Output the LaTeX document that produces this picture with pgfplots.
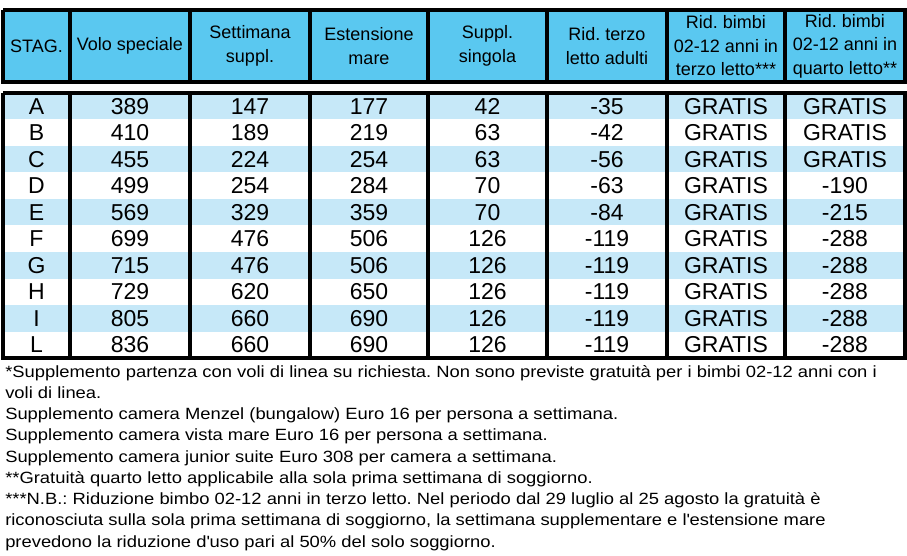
\documentclass[border=0pt]{standalone}
\usepackage{pgfplots}
\pgfplotsset{compat=1.18}
\usepackage{pgfplotstable}
\usepackage{fontspec}
\setmainfont{Liberation Sans}
\newfontfamily\notefont[FakeStretch=1.13]{Liberation Sans}
\frenchspacing
\definecolor{hdr}{RGB}{90,200,240}
\definecolor{rowblue}{RGB}{198,232,248}

\tikzset{
    hd/.style={font=\fontsize{13.5}{17.6}\selectfont, align=center, anchor=center, inner sep=0pt},
    fn/.style={font=\notefont\fontsize{12.2}{14}\selectfont, anchor=base west, inner sep=0pt}}

\pgfplotstableread{
stag volo sett est sing terzo bimbi quarto
A 389 147 177 42 -35 GRATIS GRATIS
B 410 189 219 63 -42 GRATIS GRATIS
C 455 224 254 63 -56 GRATIS GRATIS
D 499 254 284 70 -63 GRATIS -190
E 569 329 359 70 -84 GRATIS -215
F 699 476 506 126 -119 GRATIS -288
G 715 476 506 126 -119 GRATIS -288
H 729 620 650 126 -119 GRATIS -288
I 805 660 690 126 -119 GRATIS -288
L 836 660 690 126 -119 GRATIS -288
}\tab

\begin{document}
\begin{tikzpicture}
\begin{axis}[scale only axis, width=680.25pt, height=417pt,
    xmin=0, xmax=907, ymin=0, ymax=556, y dir=reverse,
    hide axis, clip=false,
    cell/.style={draw=none, mark=none, nodes near coords, point meta=explicit symbolic,
        nodes near coords align=center,
        nodes near coords style={anchor=center, font=\fontsize{17.25}{20}\selectfont, inner sep=0pt}}]

% extent of the picture
\addplot[draw=none, mark=none] coordinates {(0,0) (907,556)};

% header
\addplot[fill=hdr, draw=black, line width=2.6pt, line join=miter] coordinates {(3,10) (905,10) (905,82) (3,82) (3,10)};
% striped rows
\addplot[fill=rowblue, draw=none] coordinates {(3,93) (905,93) (905,119.5) (3,119.5)};
\addplot[fill=rowblue, draw=none] coordinates {(3,146) (905,146) (905,172.5) (3,172.5)};
\addplot[fill=rowblue, draw=none] coordinates {(3,199) (905,199) (905,225.5) (3,225.5)};
\addplot[fill=rowblue, draw=none] coordinates {(3,252) (905,252) (905,278.5) (3,278.5)};
\addplot[fill=rowblue, draw=none] coordinates {(3,305) (905,305) (905,331.5) (3,331.5)};
\addplot[draw=black, line width=2.6pt, line join=miter] coordinates {(3,93) (905,93) (905,358) (3,358) (3,93)};

% column separators
\foreach \c in {70,190,310,428,547,667,785} {
  \edef\tmp{\noexpand\addplot[draw=black, line width=2.6pt] coordinates {(\c,10) (\c,82)};
    \noexpand\addplot[draw=black, line width=2.6pt] coordinates {(\c,93) (\c,358)};}
  \tmp
}

% header labels
\node[hd] at (axis cs:36.5,46) {STAG.};
\node[hd] at (axis cs:130,46) {Volo speciale};
\node[hd] at (axis cs:250,46) {Settimana\\suppl.};
\node[hd] at (axis cs:369,46) {Estensione\\mare};
\node[hd] at (axis cs:487.5,46) {Suppl.\\singola};
\node[hd] at (axis cs:607,46) {Rid. terzo\\letto adulti};
\node[hd] at (axis cs:726,46) {Rid. bimbi\\02-12 anni in\\terzo letto***};
\node[hd] at (axis cs:845,46) {Rid. bimbi\\02-12 anni in\\quarto letto**};

% table body
\addplot[cell] table[x expr=36.5, y expr={93+26.5*(\coordindex+0.5)}, meta=stag] {\tab};
\addplot[cell] table[x expr=130, y expr={93+26.5*(\coordindex+0.5)}, meta=volo] {\tab};
\addplot[cell] table[x expr=250, y expr={93+26.5*(\coordindex+0.5)}, meta=sett] {\tab};
\addplot[cell] table[x expr=369, y expr={93+26.5*(\coordindex+0.5)}, meta=est] {\tab};
\addplot[cell] table[x expr=487.5, y expr={93+26.5*(\coordindex+0.5)}, meta=sing] {\tab};
\addplot[cell] table[x expr=607, y expr={93+26.5*(\coordindex+0.5)}, meta=terzo] {\tab};
\addplot[cell] table[x expr=726, y expr={93+26.5*(\coordindex+0.5)}, meta=bimbi] {\tab};
\addplot[cell] table[x expr=845, y expr={93+26.5*(\coordindex+0.5)}, meta=quarto] {\tab};

% notes
\node[fn] at (axis cs:5,377) {*Supplemento partenza con voli di linea su richiesta. Non sono previste gratuità per i bimbi 02-12 anni con i};
\node[fn] at (axis cs:5,398.3) {voli di linea.};
\node[fn] at (axis cs:5,419.5) {Supplemento camera Menzel (bungalow) Euro 16 per persona a settimana.};
\node[fn] at (axis cs:5,440.8) {Supplemento camera vista mare Euro 16 per persona a settimana.};
\node[fn] at (axis cs:5,462) {Supplemento camera junior suite Euro 308 per camera a settimana.};
\node[fn] at (axis cs:5,483.3) {**Gratuità quarto letto applicabile alla sola prima settimana di soggiorno.};
\node[fn] at (axis cs:5,504.5) {***N.B.: Riduzione bimbo 02-12 anni in terzo letto. Nel periodo dal 29 luglio al 25 agosto la gratuità è};
\node[fn] at (axis cs:5,525.8) {riconosciuta sulla sola prima settimana di soggiorno, la settimana supplementare e l\textquotesingle estensione mare};
\node[fn] at (axis cs:5,547) {prevedono la riduzione d\textquotesingle uso pari al 50\% del solo soggiorno.};
\end{axis}
\end{tikzpicture}
\end{document}
